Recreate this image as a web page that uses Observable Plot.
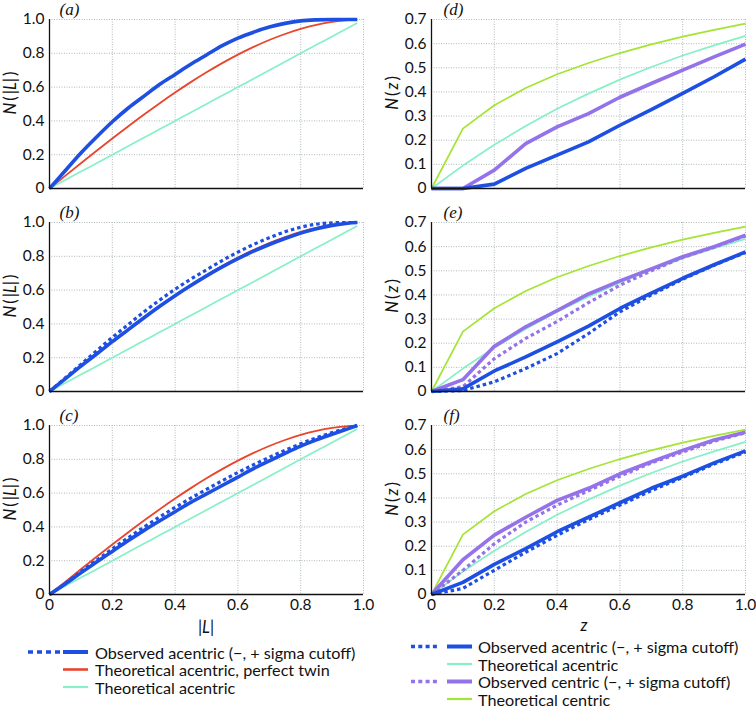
<!DOCTYPE html>
<html>
<head>
<meta charset="utf-8">
<script src="https://cdn.jsdelivr.net/npm/d3@7"></script>
<script src="https://cdn.jsdelivr.net/npm/@observablehq/plot@0.6"></script>
<style>
  html, body { margin: 0; padding: 0; background: #fff; }
  #root { position: relative; width: 756px; height: 708px; overflow: hidden; background: #fff; font-family: Lato, "Open Sans", sans-serif; color: #111; }
  .ylab { position: absolute; transform: translate(-50%, -50%) rotate(-90deg); font-size: 16.5px; white-space: nowrap; color: #111; }
  .xlab { position: absolute; transform: translate(-50%, -50%); font-size: 16.5px; white-space: nowrap; color: #111; }
</style>
</head>
<body>
<div id="root"></div>
<script>
// ---------- DATA ----------
// L-test panels (a), (b), (c)
const lX = [0, 0.05, 0.1, 0.15, 0.2, 0.25, 0.3, 0.35, 0.4, 0.45, 0.5, 0.55, 0.6, 0.65, 0.7, 0.75, 0.8, 0.85, 0.9, 0.95, 0.98];
const lTheoAcentric = [0, 0.05, 0.1, 0.15, 0.2, 0.25, 0.3, 0.35, 0.4, 0.45, 0.5, 0.55, 0.6, 0.65, 0.7, 0.75, 0.8, 0.85, 0.9, 0.95, 0.98];
const lTheoTwin = [0, 0.0749, 0.1495, 0.2233, 0.296, 0.3672, 0.4365, 0.5036, 0.568, 0.6294, 0.6875, 0.7418, 0.792, 0.8377, 0.8785, 0.9141, 0.944, 0.9679, 0.9855, 0.9963, 0.9994];
const aObsSolid = [0, 0.105, 0.21, 0.305, 0.395, 0.475, 0.545, 0.615, 0.675, 0.735, 0.79, 0.845, 0.89, 0.925, 0.955, 0.977, 0.992, 0.998, 1.0, 1.0, 1.0];
const bObsSolid = [0, 0.075, 0.15, 0.222, 0.295, 0.365, 0.435, 0.503, 0.567, 0.627, 0.684, 0.737, 0.786, 0.83, 0.87, 0.905, 0.937, 0.963, 0.983, 0.996, 1.0];
const bObsDashed = [0, 0.08, 0.16, 0.24, 0.32, 0.395, 0.47, 0.54, 0.605, 0.665, 0.72, 0.775, 0.825, 0.87, 0.91, 0.945, 0.972, 0.99, 0.998, 1.0, 1.0];
const cObsSolid = [0, 0.062, 0.128, 0.192, 0.255, 0.318, 0.378, 0.435, 0.49, 0.545, 0.595, 0.645, 0.695, 0.745, 0.79, 0.835, 0.878, 0.915, 0.948, 0.98, 1.0];
const cObsDashed = [0, 0.065, 0.135, 0.203, 0.27, 0.335, 0.398, 0.458, 0.515, 0.57, 0.622, 0.673, 0.722, 0.768, 0.812, 0.853, 0.892, 0.927, 0.958, 0.985, 1.0];

// N(z) panels (d), (e), (f)
const zX = [0, 0.1, 0.2, 0.3, 0.4, 0.5, 0.6, 0.7, 0.8, 0.9, 1.0];
const zTheoCentric = [0, 0.248, 0.345, 0.416, 0.473, 0.520, 0.561, 0.597, 0.629, 0.657, 0.683];
const zTheoAcentric = [0, 0.095, 0.181, 0.259, 0.330, 0.393, 0.451, 0.503, 0.551, 0.593, 0.632];
const dAcenSolid = [0, 0, 0.018, 0.083, 0.138, 0.193, 0.262, 0.327, 0.394, 0.463, 0.536];
const dCenSolid = [0, 0, 0.076, 0.186, 0.255, 0.31, 0.378, 0.435, 0.49, 0.545, 0.598];
const eAcenSolid = [0, 0.011, 0.085, 0.143, 0.206, 0.271, 0.344, 0.407, 0.469, 0.525, 0.578];
const eAcenDashed = [0, 0.004, 0.04, 0.095, 0.157, 0.24, 0.33, 0.40, 0.465, 0.523, 0.576];
const eCenSolid = [0, 0.049, 0.187, 0.268, 0.335, 0.404, 0.458, 0.508, 0.558, 0.60, 0.647];
const eCenDashed = [0, 0.02, 0.136, 0.22, 0.29, 0.368, 0.44, 0.50, 0.555, 0.598, 0.645];
const fAcenSolid = [0, 0.05, 0.125, 0.19, 0.26, 0.32, 0.38, 0.44, 0.49, 0.545, 0.595];
const fAcenDashed = [0, 0.025, 0.10, 0.175, 0.245, 0.31, 0.37, 0.43, 0.485, 0.54, 0.59];
const fCenSolid = [0, 0.144, 0.246, 0.32, 0.39, 0.44, 0.50, 0.55, 0.597, 0.64, 0.672];
const fCenDashed = [0, 0.10, 0.21, 0.30, 0.37, 0.43, 0.49, 0.545, 0.59, 0.635, 0.67];

// ticks & labels
const xTicks = [0, 0.2, 0.4, 0.6, 0.8, 1.0];
const lYTicks = [0, 0.2, 0.4, 0.6, 0.8, 1.0];
const zYTicks = [0, 0.1, 0.2, 0.3, 0.4, 0.5, 0.6, 0.7];
const panelLetters = ["(a)", "(b)", "(c)", "(d)", "(e)", "(f)"];
const legendLeft = ["Observed acentric (\u2212, + sigma cutoff)", "Theoretical acentric, perfect twin", "Theoretical acentric"];
const legendRight = ["Observed acentric (\u2212, + sigma cutoff)", "Theoretical acentric", "Observed centric (\u2212, + sigma cutoff)", "Theoretical centric"];

// ---------- STYLE ----------
const C = {
  blue: "#1d4fe2",
  red: "#e8452c",
  aqua: "#86f0c6",
  purple: "#9472ea",
  ygreen: "#a4e432",
  grid: "#aeb8b8"
};

const pts = (xs, ys) => xs.map((x, i) => ({x, y: ys[i]}));
const fmt = d => d === 0 ? "0" : d.toFixed(1);

function panel({series, yDomain, yTicks, bottom, left, letter, curve}) {
  const W = 378;
  const mL = left ? 49 : 53;
  const mR = left ? 15 : 11;
  const mT = 19;
  const mB = bottom ? 45 : 15;
  const H = mT + 169 + mB;
  const marks = [
    Plot.gridX(xTicks, {stroke: C.grid, strokeOpacity: 1, strokeWidth: 1, strokeDasharray: "1,1.5"}),
    Plot.gridY(yTicks, {stroke: C.grid, strokeOpacity: 1, strokeWidth: 1, strokeDasharray: "1,1.5"})
  ];
  for (const s of series) {
    marks.push(Plot.line(s.data, {
      x: "x", y: "y", stroke: s.color, strokeWidth: s.w,
      strokeDasharray: s.dash || null, curve: curve, strokeLinecap: "butt", strokeLinejoin: "round"
    }));
  }
  marks.push(Plot.ruleX([0], {stroke: "#111", strokeWidth: 1.3}));
  marks.push(Plot.ruleY([yDomain[0]], {stroke: "#111", strokeWidth: 1.3}));
  marks.push(Plot.axisY(yTicks, {tickFormat: fmt, tickSize: 0, tickPadding: 5, label: null, fontSize: 15.5}));
  if (bottom) {
    marks.push(Plot.axisX(xTicks, {tickFormat: fmt, tickSize: 0, tickPadding: 4, label: null, fontSize: 15.5}));
  }
  marks.push(Plot.text([letter], {
    frameAnchor: "top-left", dx: left ? 10 : 12, dy: -17,
    fontFamily: "Liberation Serif, DejaVu Serif, serif", fontStyle: "italic", fontSize: 17, fill: "#111"
  }));
  return Plot.plot({
    width: W, height: H,
    marginLeft: mL, marginRight: mR, marginTop: mT, marginBottom: mB,
    x: {domain: [0, 1], axis: bottom ? undefined : null},
    y: {domain: yDomain},
    style: {fontFamily: "Lato, 'Open Sans', sans-serif", fontSize: "15.5px", color: "#111", background: "transparent", overflow: "visible"},
    marks
  });
}

const root = document.getElementById("root");
function place(el, x, y) {
  el.style.position = "absolute";
  el.style.left = x + "px";
  el.style.top = y + "px";
  root.appendChild(el);
}

const rowsTop = [0, 203, 406];

// Left column: L-test
const leftSeries = [
  [
    {data: pts(lX, lTheoAcentric), color: C.aqua, w: 1.7},
    {data: pts(lX, lTheoTwin), color: C.red, w: 1.8},
    {data: pts(lX, aObsSolid), color: C.blue, w: 3.6}
  ],
  [
    {data: pts(lX, lTheoAcentric), color: C.aqua, w: 1.7},
    {data: pts(lX, lTheoTwin), color: C.red, w: 1.8},
    {data: pts(lX, bObsDashed), color: C.blue, w: 3.2, dash: "3.5,3"},
    {data: pts(lX, bObsSolid), color: C.blue, w: 3.6}
  ],
  [
    {data: pts(lX, lTheoAcentric), color: C.aqua, w: 1.7},
    {data: pts(lX, lTheoTwin), color: C.red, w: 1.8},
    {data: pts(lX, cObsDashed), color: C.blue, w: 3.2, dash: "3.5,3"},
    {data: pts(lX, cObsSolid), color: C.blue, w: 3.6}
  ]
];
const rightSeries = [
  [
    {data: pts(zX, zTheoAcentric), color: C.aqua, w: 1.7},
    {data: pts(zX, zTheoCentric), color: C.ygreen, w: 1.7},
    {data: pts(zX, dCenSolid), color: C.purple, w: 3.6},
    {data: pts(zX, dAcenSolid), color: C.blue, w: 3.6}
  ],
  [
    {data: pts(zX, zTheoAcentric), color: C.aqua, w: 1.7},
    {data: pts(zX, zTheoCentric), color: C.ygreen, w: 1.7},
    {data: pts(zX, eCenDashed), color: C.purple, w: 3.2, dash: "3.5,3"},
    {data: pts(zX, eCenSolid), color: C.purple, w: 3.6},
    {data: pts(zX, eAcenDashed), color: C.blue, w: 3.2, dash: "3.5,3"},
    {data: pts(zX, eAcenSolid), color: C.blue, w: 3.6}
  ],
  [
    {data: pts(zX, zTheoAcentric), color: C.aqua, w: 1.7},
    {data: pts(zX, zTheoCentric), color: C.ygreen, w: 1.7},
    {data: pts(zX, fCenDashed), color: C.purple, w: 3.2, dash: "3.5,3"},
    {data: pts(zX, fCenSolid), color: C.purple, w: 3.6},
    {data: pts(zX, fAcenDashed), color: C.blue, w: 3.2, dash: "3.5,3"},
    {data: pts(zX, fAcenSolid), color: C.blue, w: 3.6}
  ]
];

for (let r = 0; r < 3; r++) {
  place(panel({series: leftSeries[r], yDomain: [0, 1], yTicks: lYTicks, bottom: r === 2, left: true, letter: panelLetters[r], curve: "monotone-x"}), 0, rowsTop[r]);
  place(panel({series: rightSeries[r], yDomain: [0, 0.7], yTicks: zYTicks, bottom: r === 2, left: false, letter: panelLetters[r + 3], curve: "linear"}), 378, rowsTop[r]);
}

// y-axis labels
for (let r = 0; r < 3; r++) {
  const cy = rowsTop[r] + 19 + 84.5 - 11;
  const l = document.createElement("div");
  l.className = "ylab";
  l.innerHTML = "<i>N</i>\u2009(\u2009|<i>L</i>|\u2009)";
  l.style.left = "10px"; l.style.top = cy + "px";
  root.appendChild(l);
  const rr = document.createElement("div");
  rr.className = "ylab";
  rr.innerHTML = "<i>N</i>\u2009(\u2009<i>z</i>\u2009)";
  rr.style.left = "392px"; rr.style.top = cy + "px";
  root.appendChild(rr);
}
// x-axis labels
{
  const a = document.createElement("div");
  a.className = "xlab"; a.innerHTML = "|<i>L</i>|";
  a.style.left = "206px"; a.style.top = "627px";
  root.appendChild(a);
  const b = document.createElement("div");
  b.className = "xlab"; b.innerHTML = "<i>z</i>";
  b.style.left = "584px"; b.style.top = "625px";
  root.appendChild(b);
}

// legend
const ns = "http://www.w3.org/2000/svg";
const leg = document.createElementNS(ns, "svg");
leg.setAttribute("width", 756); leg.setAttribute("height", 708);
leg.style.position = "absolute"; leg.style.left = "0"; leg.style.top = "0"; leg.style.pointerEvents = "none";
root.appendChild(leg);
function seg(x1, x2, y, color, w, dash) {
  const l = document.createElementNS(ns, "line");
  l.setAttribute("x1", x1); l.setAttribute("x2", x2); l.setAttribute("y1", y); l.setAttribute("y2", y);
  l.setAttribute("stroke", color); l.setAttribute("stroke-width", w);
  if (dash) l.setAttribute("stroke-dasharray", dash);
  leg.appendChild(l);
}
function txt(x, y, s) {
  const t = document.createElementNS(ns, "text");
  t.setAttribute("x", x); t.setAttribute("y", y);
  t.setAttribute("dominant-baseline", "central");
  t.setAttribute("font-family", "Lato, 'Open Sans', sans-serif");
  t.setAttribute("font-size", "16.2");
  t.setAttribute("fill", "#111");
  t.textContent = s;
  leg.appendChild(t);
}
// left legend
const lRows = [652, 669.5, 687];
seg(28, 62, lRows[0], C.blue, 3.6, "5,4");
seg(63, 88, lRows[0], C.blue, 4);
seg(63, 88, lRows[1], C.red, 2.6);
seg(63, 88, lRows[2], C.aqua, 2.2);
legendLeft.forEach((s, i) => txt(95, lRows[i], s));
// right legend
const rRows = [646.5, 664, 681.5, 699];
seg(411, 437, rRows[0], C.blue, 3.6, "4,3.3");
seg(447, 472, rRows[0], C.blue, 4);
seg(447, 472, rRows[1], C.aqua, 2.2);
seg(411, 437, rRows[2], C.purple, 3.6, "4,3.3");
seg(447, 472, rRows[2], C.purple, 4);
seg(447, 472, rRows[3], C.ygreen, 2.2);
legendRight.forEach((s, i) => txt(478, rRows[i], s));
</script>
</body>
</html>
